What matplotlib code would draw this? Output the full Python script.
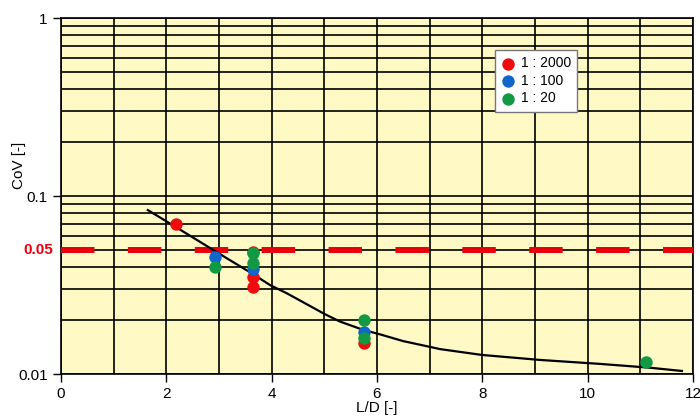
import numpy as np
import matplotlib
matplotlib.use("Agg")
import matplotlib.pyplot as plt
from matplotlib.ticker import FixedLocator, NullFormatter, LogLocator

plt.rcParams['font.family'] = ['Liberation Sans', 'DejaVu Sans']

# measured points, L/D vs CoV
ld_2000 = [2.18, 3.64, 3.64, 3.64, 5.75]
cov_2000 = [0.0693, 0.0487, 0.0349, 0.0307, 0.0149]
ld_100 = [2.92, 3.64, 5.75]
cov_100 = [0.0456, 0.0389, 0.0173]
ld_20 = [2.92, 3.64, 3.64, 5.75, 5.75, 11.1]
cov_20 = [0.0401, 0.0476, 0.0419, 0.0201, 0.0159, 0.0117]

# fitted trend line
fit_ld = [1.65, 2.18, 2.64, 2.92, 3.21, 3.65, 3.97, 4.29, 4.60, 5.01, 5.30,
          5.74, 6.06, 6.50, 6.82, 7.20, 7.99, 9.09, 10.23, 11.18, 11.79]
fit_cov = [0.0834, 0.0670, 0.0553, 0.0492, 0.0436, 0.0364, 0.0316, 0.0284,
           0.0253, 0.0217, 0.0197, 0.0177, 0.0167, 0.0153, 0.0146, 0.0138,
           0.0128, 0.0120, 0.0114, 0.01085, 0.0104]

limit = 0.05

fig = plt.figure(figsize=(7, 4.2), dpi=100)
ax = fig.add_axes([0.087, 0.1095, 0.903, 0.8475])
ax.set_facecolor('#fff9c6')
ax.set_yscale('log')
ax.set_xlim(0, 12)
ax.set_ylim(0.01, 1)

# grid
ax.xaxis.set_major_locator(FixedLocator(np.arange(0, 13, 2)))
ax.xaxis.set_minor_locator(FixedLocator(np.arange(1, 12, 2)))
ax.yaxis.set_major_locator(FixedLocator([0.01, 0.1, 1]))
ax.yaxis.set_minor_locator(LogLocator(base=10, subs=np.arange(2, 10)))
ax.yaxis.set_minor_formatter(NullFormatter())
ax.grid(True, which='both', color='black', lw=1.2)
ax.set_axisbelow(True)
ax.tick_params(axis='both', which='minor', length=0)
ax.tick_params(axis='both', which='major', length=6, width=1, labelsize=11, direction='out')
ax.set_yticklabels(['0.01', '0.1', '1'])
for s in ax.spines.values():
    s.set_color('black')
    s.set_linewidth(1.2)

# limit line
ax.axhline(limit, color='#e8000b', lw=4.3, dashes=(5.6, 5.6), zorder=3)
ax.text(-0.012, limit, '0.05', transform=ax.get_yaxis_transform(),
        color='#e8000b', fontsize=11, fontweight='bold', ha='right', va='center')

ax.plot(fit_ld, fit_cov, color='black', lw=1.6, zorder=4)

ms = 80
ax.scatter(ld_2000, cov_2000, s=ms, color='#ee0c0c', zorder=5, label='1 : 2000', linewidths=0)
ax.scatter(ld_100, cov_100, s=ms, color='#1166cc', zorder=5, label='1 : 100', linewidths=0)
ax.scatter(ld_20, cov_20, s=ms, color='#119944', zorder=6, label='1 : 20', linewidths=0)

leg = ax.legend(loc='upper left', bbox_to_anchor=(0.687, 0.91), fontsize=10,
                frameon=True, fancybox=False, framealpha=1, edgecolor='#777777',
                handletextpad=0.4, borderpad=0.45, labelspacing=0.25, handlelength=1.0,
                borderaxespad=0)
leg.get_frame().set_linewidth(1.0)

ax.set_xlabel('L/D [-]', fontsize=11, labelpad=0)
ax.set_ylabel('CoV [-]', fontsize=11)
ax.yaxis.set_label_coords(-0.056, 0.587)

fig.savefig('out.png', dpi=100)
